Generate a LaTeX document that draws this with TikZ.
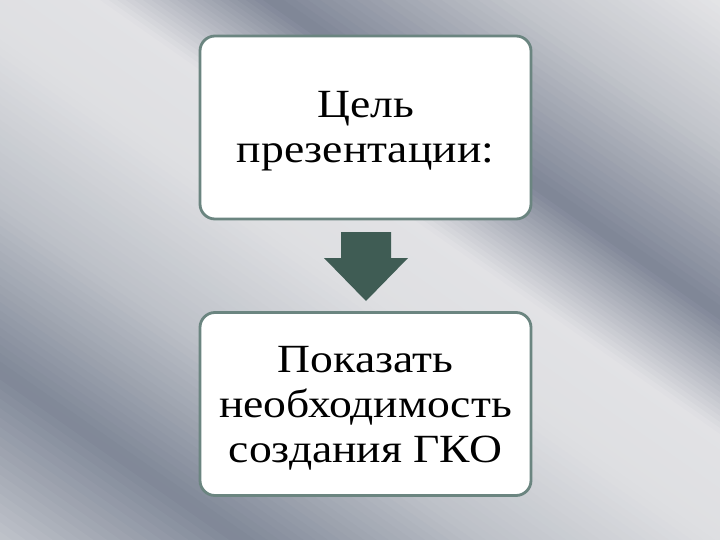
\documentclass[tikz,border=0pt]{standalone}
\usepackage{fontspec}
\newfontfamily\boxfont{Liberation Serif}[FakeStretch=1.14]
\definecolor{sa}{HTML}{E8E8EA}
\definecolor{sb}{HTML}{C2C5CB}
\definecolor{sc}{HTML}{7E8596}
\definecolor{sd}{HTML}{E2E2E5}
\definecolor{se}{HTML}{DEDFE2}
\definecolor{sf}{HTML}{BDC1C8}
\definecolor{sg}{HTML}{7F8797}
\definecolor{sh}{HTML}{C8CBD1}
\definecolor{boxline}{HTML}{6B8580}
\definecolor{arrowc}{HTML}{3F5C54}
\tikzset{
  textbox/.style={draw=boxline, line width=2.8pt, fill=white, rounded corners=15pt,
    minimum width=331pt, minimum height=183pt, inner sep=0pt},
  boxtext/.style={align=center, inner sep=0pt, text=black,
    font=\boxfont\fontsize{40}{45}\selectfont},
  blockarrow/.style={fill=arrowc, draw=none}
}
\begin{document}
\begin{tikzpicture}[x=1pt,y=-1pt]
\useasboundingbox (0,0) rectangle (720,540);
\begin{scope}
\clip (0,0) rectangle (720,540);
\foreach \ca/\cb/\ka/\kb in {-520/-360/sa/sb, -360/-190/sb/sc, -190/-70/sc/sd, -70/40/sd/se, 40/200/se/sf, 200/370/sf/sg, 370/560/sg/sh} {
  \foreach \i in {0,...,19} {
    \pgfmathsetmacro\cl{\ca+(\cb-\ca)*\i/20}
    \pgfmathsetmacro\ch{\ca+(\cb-\ca)*(\i+1)/20+1}
    \pgfmathtruncatemacro\pp{100-5*\i-2}
    \fill[\ka!\pp!\kb] (-10,\cl-7) -- (730,\cl+511) -- (730,\ch+511) -- (-10,\ch-7) -- cycle;
  }
}
\end{scope}
\node[textbox] (goal) at (365.5,127.5) {};
\node[textbox] (aim) at (365.5,404) {};
\node[boxtext] (goaltxt) at ([yshift=-4pt]goal.center) {Цель\\презентации:};
\node[boxtext] (aimtxt) at ([yshift=-4pt]aim.center) {Показать\\необходимость\\создания ГКО};
\coordinate (top) at (366,232);
\coordinate (tip) at (366,301);
\fill[blockarrow] ([xshift=-25pt]top) -- ([xshift=25pt]top) -- ([xshift=25pt]top |- 0,258) -- (408,258) -- (tip) -- (324,258) -- ([xshift=-25pt]top |- 0,258) -- cycle;
\end{tikzpicture}
\end{document}
